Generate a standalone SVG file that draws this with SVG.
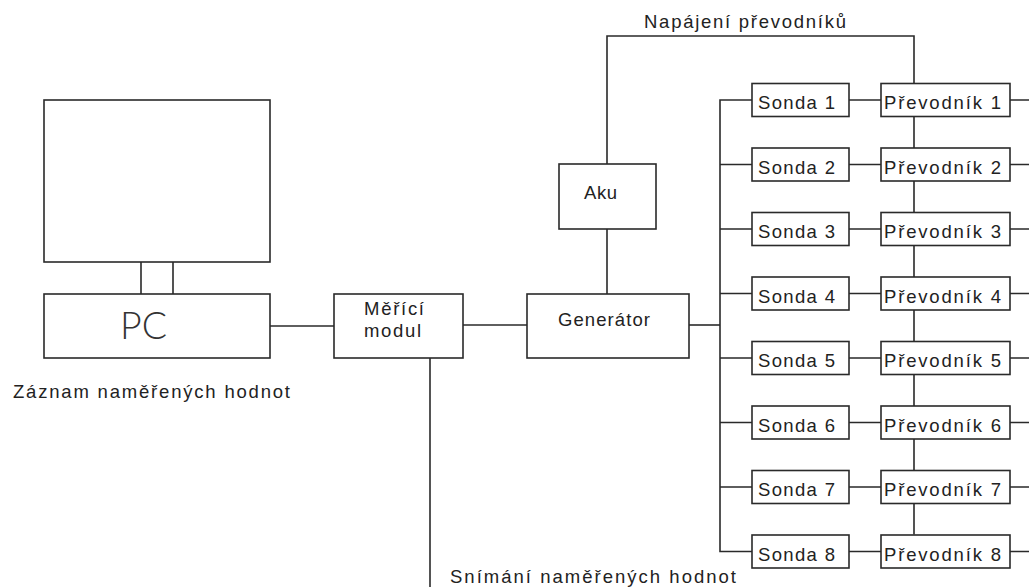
<svg xmlns="http://www.w3.org/2000/svg" width="1029" height="587" viewBox="0 0 1029 587">
<style>
.b{fill:#fff;stroke:#2a2a2a;stroke-width:1.6}
.c{fill:none;stroke:#2a2a2a;stroke-width:1.6}
text{font-family:"Liberation Sans",Arial,sans-serif;font-size:18.5px;fill:#222}
.pc{font-family:"Lato","Liberation Sans",sans-serif;font-weight:300;font-size:37px;fill:#333}
</style>
<rect width="1029" height="587" fill="#fff"/>
<g id="connectors">
<path class="c" d="M141 262V294M173 262V294"/>
<path class="c" d="M270 326H334"/>
<path class="c" d="M463 325H527"/>
<path class="c" d="M430 358V587"/>
<path class="c" d="M607 294V229M607 164V36H914V534.5"/>
<path class="c" d="M689 325H720"/>
<path class="c" d="M752 100H720V551.5H752"/>
<path class="c" d="M720 164.5H752M720 229H752M720 293.5H752M720 358H752M720 422.5H752M720 487H752"/>
<path class="c" d="M849 100H881M849 164.5H881M849 229H881M849 293.5H881M849 358H881M849 422.5H881M849 487H881M849 551.5H881"/>
<path class="c" d="M1010 100H1029M1010 164.5H1029M1010 229H1029M1010 293.5H1029M1010 358H1029M1010 422.5H1029M1010 487H1029M1010 551.5H1029"/>
</g>
<g id="monitor"><rect class="b" x="44" y="100" width="226" height="162"/></g>
<g id="pc"><rect class="b" x="44" y="294" width="226" height="64"/><text class="pc" x="120" y="339" textLength="47" lengthAdjust="spacingAndGlyphs">PC</text></g>
<g id="merici"><rect class="b" x="334" y="294" width="129" height="64"/><text x="364" y="315" textLength="60" lengthAdjust="spacing">Měřící</text><text x="364" y="337" textLength="57" lengthAdjust="spacing">modul</text></g>
<g id="generator"><rect class="b" x="527" y="294" width="162" height="64"/><text x="558" y="326" textLength="92" lengthAdjust="spacing">Generátor</text></g>
<g id="aku"><rect class="b" x="559" y="164" width="97" height="65"/><text x="584" y="199" textLength="33" lengthAdjust="spacing">Aku</text></g>
<g id="sonda1"><rect class="b" x="752" y="83.5" width="97" height="33"/><text x="758" y="109" textLength="77" lengthAdjust="spacing">Sonda 1</text></g>
<g id="sonda2"><rect class="b" x="752" y="148" width="97" height="33"/><text x="758" y="173.5" textLength="77" lengthAdjust="spacing">Sonda 2</text></g>
<g id="sonda3"><rect class="b" x="752" y="212.5" width="97" height="33"/><text x="758" y="238" textLength="77" lengthAdjust="spacing">Sonda 3</text></g>
<g id="sonda4"><rect class="b" x="752" y="277" width="97" height="33"/><text x="758" y="302.5" textLength="77" lengthAdjust="spacing">Sonda 4</text></g>
<g id="sonda5"><rect class="b" x="752" y="341.5" width="97" height="33"/><text x="758" y="367" textLength="77" lengthAdjust="spacing">Sonda 5</text></g>
<g id="sonda6"><rect class="b" x="752" y="406" width="97" height="33"/><text x="758" y="431.5" textLength="77" lengthAdjust="spacing">Sonda 6</text></g>
<g id="sonda7"><rect class="b" x="752" y="470.5" width="97" height="33"/><text x="758" y="496" textLength="77" lengthAdjust="spacing">Sonda 7</text></g>
<g id="sonda8"><rect class="b" x="752" y="535" width="97" height="33"/><text x="758" y="560.5" textLength="77" lengthAdjust="spacing">Sonda 8</text></g>
<g id="prevodnik1"><rect class="b" x="881" y="83.5" width="129" height="33"/><text x="884" y="109" textLength="117" lengthAdjust="spacing">Převodník 1</text></g>
<g id="prevodnik2"><rect class="b" x="881" y="148" width="129" height="33"/><text x="884" y="173.5" textLength="117" lengthAdjust="spacing">Převodník 2</text></g>
<g id="prevodnik3"><rect class="b" x="881" y="212.5" width="129" height="33"/><text x="884" y="238" textLength="117" lengthAdjust="spacing">Převodník 3</text></g>
<g id="prevodnik4"><rect class="b" x="881" y="277" width="129" height="33"/><text x="884" y="302.5" textLength="117" lengthAdjust="spacing">Převodník 4</text></g>
<g id="prevodnik5"><rect class="b" x="881" y="341.5" width="129" height="33"/><text x="884" y="367" textLength="117" lengthAdjust="spacing">Převodník 5</text></g>
<g id="prevodnik6"><rect class="b" x="881" y="406" width="129" height="33"/><text x="884" y="431.5" textLength="117" lengthAdjust="spacing">Převodník 6</text></g>
<g id="prevodnik7"><rect class="b" x="881" y="470.5" width="129" height="33"/><text x="884" y="496" textLength="117" lengthAdjust="spacing">Převodník 7</text></g>
<g id="prevodnik8"><rect class="b" x="881" y="535" width="129" height="33"/><text x="884" y="560.5" textLength="117" lengthAdjust="spacing">Převodník 8</text></g>
<g id="labels">
<text x="644" y="28" textLength="202" lengthAdjust="spacing">Napájení převodníků</text>
<text x="13" y="398" textLength="277" lengthAdjust="spacing">Záznam naměřených hodnot</text>
<text x="450" y="583" textLength="286" lengthAdjust="spacing">Snímání naměřených hodnot</text>
</g>
</svg>
